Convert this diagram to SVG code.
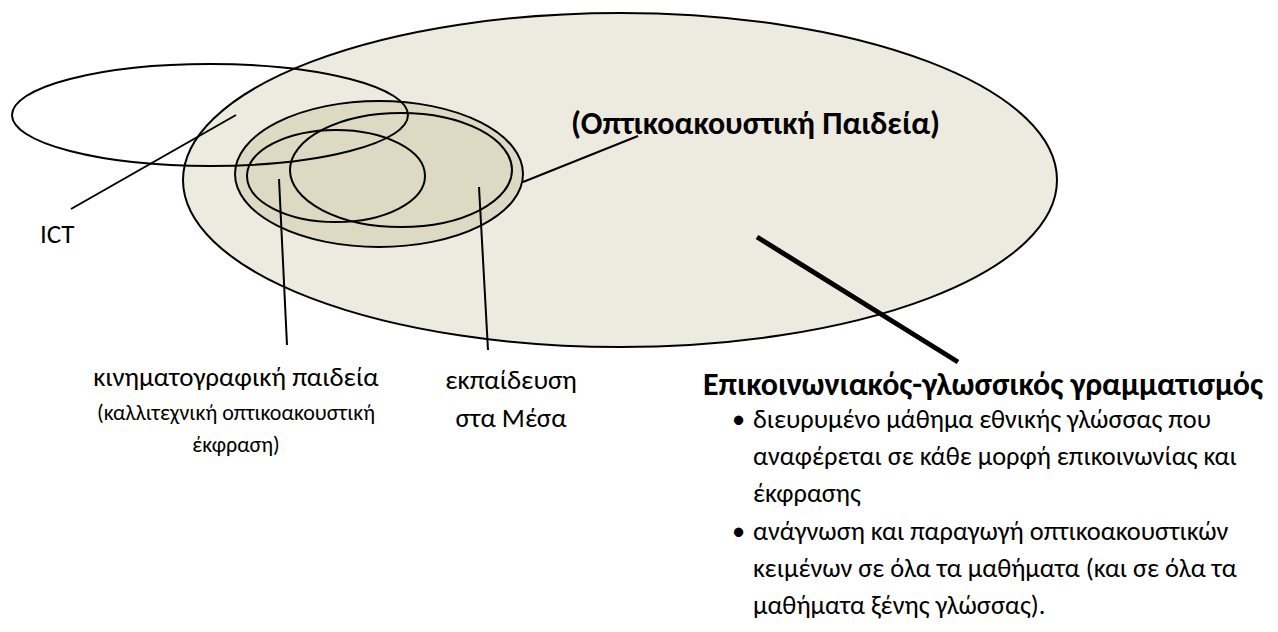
<svg xmlns="http://www.w3.org/2000/svg" width="1278" height="632" viewBox="0 0 1278 632">
<style>
.t{font-family:Carlito,Roboto,"Noto Sans","DejaVu Sans",sans-serif;fill:#000}
.l{font-size:27px}
.p{font-size:26.4px}
.s{font-size:22px}
.h{font-size:32px;font-weight:bold}
.c{text-anchor:middle}
.r{text-anchor:end}
.e{stroke:#000;stroke-width:2}
.ln{stroke:#000;stroke-width:2;fill:none}
</style>
<rect width="1278" height="632" fill="#fff"/>
<g id="literacy">
<ellipse class="e" cx="620" cy="180" rx="437" ry="167" fill="#EDEBE0"/>
</g>
<g id="audiovisual">
<ellipse class="e" cx="379" cy="174" rx="144" ry="73" fill="#DDD9C3"/>
</g>
<g id="film">
<ellipse class="e" cx="336" cy="176" rx="89" ry="46" fill="none"/>
</g>
<g id="media">
<ellipse class="e" cx="401" cy="170" rx="111" ry="57" fill="none"/>
</g>
<g id="ict">
<ellipse class="e" cx="210" cy="115" rx="198" ry="51" fill="none"/>
</g>
<g id="connectors">
<line class="ln" x1="71" y1="209" x2="236" y2="115"/>
<line class="ln" x1="279" y1="179" x2="287" y2="345"/>
<line class="ln" x1="479" y1="187" x2="488" y2="350"/>
<line class="ln" x1="523" y1="182" x2="638" y2="136"/>
<line x1="757" y1="237" x2="958" y2="362" stroke="#000" stroke-width="5"/>
</g>
<g id="labels">
<text class="t h r" x="940" y="134">(Οπτικοακουστική Παιδεία)</text>
<text class="t l" x="40" y="243">ICT</text>
<text class="t l c" x="236" y="386">κινηματογραφική παιδεία</text>
<text class="t s c" x="236" y="420">(καλλιτεχνική οπτικοακουστική</text>
<text class="t s c" x="236" y="452">έκφραση)</text>
<text class="t l c" x="511" y="389">εκπαίδευση</text>
<text class="t l c" x="511" y="427">στα Μέσα</text>
<text class="t h r" x="1263" y="395">Επικοινωνιακός-γλωσσικός γραμματισμός</text>
<text class="t p" x="732" y="428">•</text>
<text class="t p" x="753" y="428">διευρυμένο μάθημα εθνικής γλώσσας που</text>
<text class="t p" x="753" y="465">αναφέρεται σε κάθε μορφή επικοινωνίας και</text>
<text class="t p" x="753" y="502">έκφρασης</text>
<text class="t p" x="732" y="540">•</text>
<text class="t p" x="753" y="540">ανάγνωση και παραγωγή οπτικοακουστικών</text>
<text class="t p" x="753" y="577">κειμένων σε όλα τα μαθήματα (και σε όλα τα</text>
<text class="t p" x="753" y="614">μαθήματα ξένης γλώσσας).</text>
</g>
</svg>
